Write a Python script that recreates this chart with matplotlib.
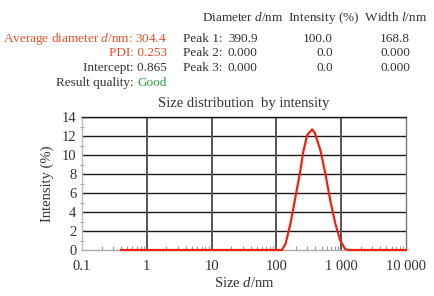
import matplotlib
matplotlib.use('Agg')
import matplotlib.pyplot as plt
from matplotlib.ticker import FixedLocator, NullFormatter

plt.rcParams['font.family'] = ['Liberation Serif', 'DejaVu Serif']
plt.rcParams['mathtext.fontset'] = 'custom'
plt.rcParams['mathtext.rm'] = 'Liberation Serif'
plt.rcParams['mathtext.it'] = 'Liberation Serif:italic'

# size distribution
sizes = [0.4, 122, 139, 165, 197, 235, 259, 299, 356, 390, 478, 569, 679, 810, 966, 1150, 1300, 10000]
intensity = [0, 0, 0.7, 2.8, 5.6, 8.4, 10.3, 12.1, 12.7, 12.35, 10.5, 8.05, 5.2, 2.8, 1.0, 0.1, 0, 0]

x_ticks = [0.1, 1, 10, 100, 1000, 10000]
x_labels = ['0.1', '1', '10', '100', '1 000', '10 000']
y_ticks = [0, 2, 4, 6, 8, 10, 12, 14]

peak_names = ['Peak 1:', 'Peak 2:', 'Peak 3:']
peak_diam = ['390.9', '0.000', '0.000']
peak_int = ['100.0', '0.0', '0.0']
peak_width = ['168.8', '0.000', '0.000']

W, H = 435, 296
fig = plt.figure(figsize=(W / 100, H / 100), dpi=100)
fig.patch.set_facecolor('white')


def px(x, y):
    return x / W, 1 - y / H


txt = '#333333'
orange = '#e8502a'
fs = 9.5

# summary block (left)
fig.text(*px(167, 39), 'Average diameter $d$/nm: 304.4', ha='right', va='center', color=orange, fontsize=fs)
fig.text(*px(167, 53), 'PDI: 0.253', ha='right', va='center', color=orange, fontsize=fs)
fig.text(*px(167, 68), 'Intercept: 0.865', ha='right', va='center', color=txt, fontsize=fs)
good = fig.text(*px(167, 83), 'Good', ha='right', va='center', color='#2aa048', fontsize=fs)

# peak table
fig.text(*px(202, 18), 'Diameter $d$/nm  Intensity (%)  Width $l$/nm', ha='left', va='center', color=txt, fontsize=fs)
for i in range(3):
    yy = 39 + i * 14.5
    fig.text(*px(183, yy), peak_names[i], ha='left', va='center', color=txt, fontsize=fs)
    fig.text(*px(228, yy), peak_diam[i], ha='left', va='center', color=txt, fontsize=fs)
    fig.text(*px(333, yy), peak_int[i], ha='right', va='center', color=txt, fontsize=fs)
    fig.text(*px(410, yy), peak_width[i], ha='right', va='center', color=txt, fontsize=fs)

ax = fig.add_axes([82 / W, 1 - 250 / H, 324 / W, 133 / H])
ax.plot(sizes, intensity, color='#ee2211', lw=1.6, zorder=5, clip_on=False)
ax.set_xscale('log')
ax.set_xlim(0.1, 10000)
ax.set_ylim(0, 14)

ax.xaxis.set_major_locator(FixedLocator(x_ticks))
ax.set_xticklabels(x_labels)
ax.set_yticks(y_ticks)
ax.yaxis.set_minor_locator(FixedLocator([1, 3, 5, 7, 9, 11, 13]))
ax.xaxis.set_minor_formatter(NullFormatter())
ax.tick_params(which='major', length=0, labelsize=10.5, colors=txt)
ax.tick_params(axis='x', which='major', pad=7)
ax.tick_params(axis='y', which='major', pad=4)
ax.tick_params(axis='x', which='minor', length=3, direction='in', color='#999999', width=0.8)
ax.tick_params(axis='y', which='minor', length=3, direction='inout', color='#999999', width=0.8)

for v in y_ticks[1:]:
    ax.axhline(v, color='#1a1a1a', lw=1.0, zorder=1)
for v in [1, 10, 100, 1000]:
    ax.axvline(v, color='#555555', lw=1.4, zorder=1)

ax.spines['left'].set_color('#bbbbbb')
ax.spines['bottom'].set_color('#aaaaaa')
ax.spines['right'].set_color('#777777')
ax.spines['top'].set_color('#1a1a1a')
for s in ax.spines.values():
    s.set_linewidth(1.0)

fig.text(*px(244, 104), 'Size distribution  by intensity', ha='center', va='center', color=txt, fontsize=10.5)
fig.text(*px(47, 184), 'Intensity (%)', ha='center', va='center', rotation=90, color=txt, fontsize=10.5)
fig.text(*px(244, 283), 'Size $d$/nm', ha='center', va='center', color=txt, fontsize=10.5)

# put "Result quality:" just left of "Good"
fig.canvas.draw()
bb = good.get_window_extent()
fig.text(bb.x0 / W - 3.5 / W, 1 - 83 / H, 'Result quality:', ha='right', va='center', color=txt, fontsize=fs)

fig.savefig('out.png', dpi=100, facecolor='white')
